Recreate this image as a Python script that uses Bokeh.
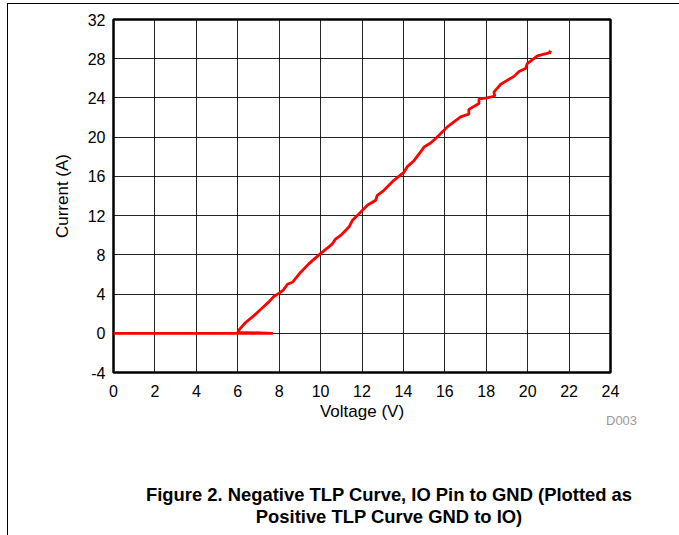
from bokeh.plotting import figure
from bokeh.models import Range1d, FixedTicker, Div
from bokeh.layouts import column
from bokeh.embed import file_html
from bokeh.resources import INLINE

# ---- data ----
voltage = [0.0, 7.7, 6.0, 6.1, 6.38, 6.78, 7.18, 7.5, 7.74, 8.0, 8.2, 8.4, 8.64,
           9.03, 9.43, 9.92, 10.56, 10.72, 10.97, 11.37, 11.53, 11.77, 12.26,
           12.66, 12.74, 13.06, 13.54, 14.02, 14.19, 14.51, 14.83, 15.0, 15.31,
           15.56, 15.96, 16.12, 16.76, 17.16, 17.16, 17.65, 17.65, 18.05, 18.41,
           18.37, 18.7, 19.34, 19.58, 19.9, 19.98, 20.47, 21.03, 21.1, 21.05]
current = [0.0, 0.0, 0.1, 0.45, 1.1, 1.8, 2.58, 3.2, 3.75, 4.1, 4.4, 5.0, 5.2,
           6.2, 7.08, 8.0, 9.1, 9.6, 9.98, 10.83, 11.5, 12.0, 13.05,
           13.56, 14.07, 14.58, 15.6, 16.4, 17.0, 17.6, 18.5, 19.0, 19.4,
           19.86, 20.7, 21.05, 22.07, 22.35, 22.83, 23.44, 23.9, 24.0, 24.2,
           24.6, 25.4, 26.2, 26.7, 27.0, 27.5, 28.3, 28.6, 28.8, 28.5]
x_ticks = [0, 2, 4, 6, 8, 10, 12, 14, 16, 18, 20, 22, 24]
y_ticks = [-4, 0, 4, 8, 12, 16, 20, 24, 28, 32]
x_label = "Voltage (V)"
y_label = "Current (A)"
caption1 = "Figure 2. Negative TLP Curve, IO Pin to GND (Plotted as"
caption2 = "Positive TLP Curve GND to IO)"
code = "D003"

FONT = "Liberation Sans"
FW = 671          # figure width
FH = 432          # figure height
CH = 99           # caption div height

p = figure(width=FW, height=FH, output_backend="svg", toolbar_location=None,
           x_range=Range1d(0, 24), y_range=Range1d(-4, 32),
           min_border_left=105, min_border_right=69, min_border_top=15,
           min_border_bottom=64)
p.background_fill_color = "white"
p.border_fill_color = "white"
p.outline_line_color = "black"
p.outline_line_width = 2.5

p.xaxis.ticker = FixedTicker(ticks=x_ticks)
p.yaxis.ticker = FixedTicker(ticks=y_ticks)
p.yaxis.major_label_overrides = {t: str(t) for t in y_ticks}
for ax in (p.xaxis[0], p.yaxis[0]):
    ax.axis_line_color = None
    ax.major_tick_line_color = None
    ax.minor_tick_line_color = None
    ax.major_tick_out = 0
    ax.major_tick_in = 0
    ax.minor_tick_out = 0
    ax.major_label_text_font = FONT
    ax.major_label_text_font_size = "16px"
    ax.major_label_text_color = "black"
    ax.axis_label_text_font = FONT
    ax.axis_label_text_font_size = "17px"
    ax.axis_label_text_font_style = "normal"
    ax.axis_label_text_color = "black"
p.xaxis.axis_label = x_label
p.yaxis.axis_label = y_label
p.xaxis.major_label_standoff = 12
p.xaxis.axis_label_standoff = 2
p.yaxis.major_label_standoff = 8
p.yaxis.axis_label_standoff = 13

p.xgrid.ticker = FixedTicker(ticks=x_ticks)
p.ygrid.ticker = FixedTicker(ticks=y_ticks)
p.grid.grid_line_color = "black"
p.grid.grid_line_alpha = 0.85
p.grid.grid_line_width = 1

p.line(voltage, current, line_color="#ff0000", line_width=2.8)

cap_html = (
    '<div style="position:relative;width:671px;height:%dpx;">'
    '<div style="position:absolute;left:593px;top:-28px;font-family:\'Liberation Sans\';'
    'font-size:13px;color:#9a9a9a;line-height:15px;">%s</div>'
    '<div style="position:absolute;left:86px;width:580px;top:43px;text-align:center;'
    'font-family:\'Liberation Sans\';font-size:18.4px;font-weight:bold;color:black;'
    'line-height:22px;">%s<br>%s</div></div>' % (CH, code, caption1, caption2)
)
cap = Div(text=cap_html, width=FW, height=CH)

root = column(p, cap, margin=(3, 0, 0, 7),
              styles={"border-top": "1px solid black", "border-left": "1px solid black"})

open("out.html", "w").write(file_html(root, INLINE))
